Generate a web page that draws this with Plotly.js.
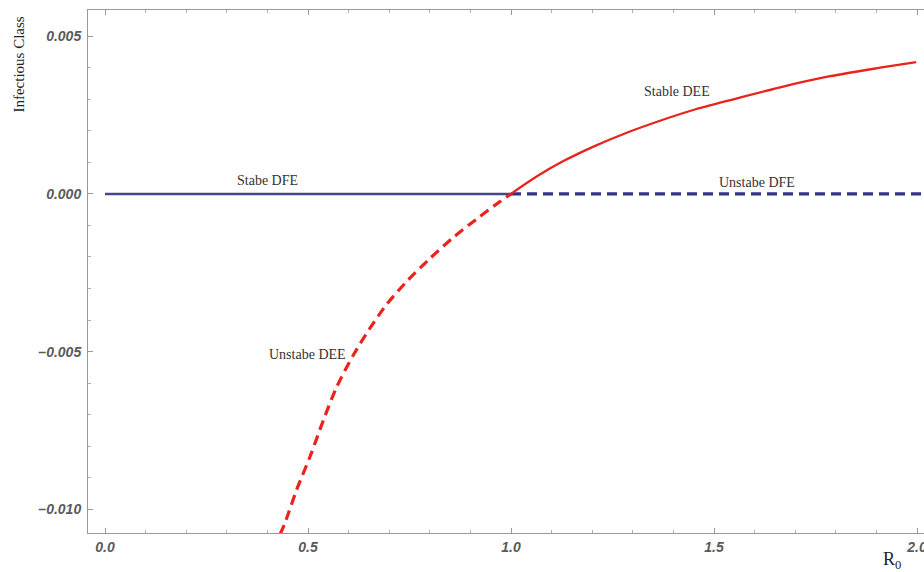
<!DOCTYPE html>
<html>
<head>
<meta charset="utf-8">
<script src="https://cdn.plot.ly/plotly-3.0.1.min.js"></script>
<style>html,body{margin:0;padding:0;background:#fff;overflow:hidden}</style>
</head>
<body>
<div id="chart" style="width:924px;height:572px"></div>
<script>
// Stable disease-free equilibrium (solid) and unstable DFE (dashed)
const dfeStableX = [0.0, 1.0];
const dfeStableY = [0.0, 0.0];
const dfeUnstableX = [1.0, 2.02];
const dfeUnstableY = [0.0, 0.0];

// Unstable endemic equilibrium (red dashed)
const deeUnstableX = [0.431, 0.443, 0.472, 0.505, 0.538, 0.571, 0.612, 0.653, 0.694, 0.743, 0.800, 0.858, 0.915, 0.973, 1.0];
const deeUnstableY = [-0.01080, -0.01044, -0.00938, -0.00833, -0.00717, -0.00611, -0.00510, -0.00425, -0.00350, -0.00278, -0.00205, -0.00138, -0.00080, -0.00024, 0.0];

// Stable endemic equilibrium (red solid)
const deeStableX = [1.0, 1.063, 1.129, 1.203, 1.285, 1.367, 1.449, 1.548, 1.663, 1.786, 1.909, 1.998];
const deeStableY = [0.0, 0.00055, 0.00104, 0.00150, 0.00194, 0.00232, 0.00266, 0.00300, 0.00338, 0.00373, 0.00400, 0.00418];

const xTicks = [0.0, 0.5, 1.0, 1.5, 2.0];
const xTickLabels = ["0.0", "0.5", "1.0", "1.5", "2.0"];
const yTicks = [-0.010, -0.005, 0.000, 0.005];
const yTickLabels = ["\u20130.010", "\u20130.005", "0.000", "0.005"];

const blue = '#46468a';
const blueDash = '#33338c';
const red = '#e8241c';

const traces = [
  {x: dfeStableX, y: dfeStableY, mode: 'lines', line: {color: blue, width: 2.5}, hoverinfo: 'skip'},
  {x: dfeUnstableX, y: dfeUnstableY, mode: 'lines', line: {color: blueDash, width: 3.2, dash: '10px,6px'}, hoverinfo: 'skip'},
  {x: deeUnstableX, y: deeUnstableY, mode: 'lines', line: {color: red, width: 3.2, dash: '10px,6px', shape: 'spline', smoothing: 0.8}, hoverinfo: 'skip'},
  {x: deeStableX, y: deeStableY, mode: 'lines', line: {color: red, width: 2.3, shape: 'spline', smoothing: 0.8}, hoverinfo: 'skip'}
];

const tickFont = {family: '"Liberation Sans", Arial, sans-serif', size: 14, color: '#5a5a5a', weight: 'bold', style: 'italic'};
const serif = '"Liberation Serif", "Times New Roman", serif';

const layout = {
  width: 924, height: 572,
  margin: {l: 88, r: 0, t: 10, b: 39, pad: 0},
  paper_bgcolor: '#ffffff', plot_bgcolor: '#ffffff',
  showlegend: false,
  xaxis: {
    range: [-0.0419, 2.0172], showgrid: false, zeroline: false,
    showline: true, linecolor: '#9a9a9a', linewidth: 1, mirror: 'ticks',
    ticks: 'inside', ticklen: 5, tickcolor: '#9a9a9a', tickwidth: 1,
    tickvals: xTicks, ticktext: xTickLabels, tickfont: tickFont, ticklabelstandoff: 1,
    ticklabeloverflow: 'allow',
    minor: {dtick: 0.1, tick0: 0, ticks: 'inside', ticklen: 3, tickcolor: '#b0b0b0', showgrid: false}
  },
  yaxis: {
    range: [-0.01075, 0.00583], showgrid: false, zeroline: false,
    showline: true, linecolor: '#9a9a9a', linewidth: 1, mirror: false,
    ticks: 'inside', ticklen: 5, tickcolor: '#9a9a9a', tickwidth: 1,
    tickvals: yTicks, ticktext: yTickLabels, tickfont: tickFont, ticklabelstandoff: 3,
    minor: {dtick: 0.001, tick0: 0, ticks: 'inside', ticklen: 3, tickcolor: '#b0b0b0', showgrid: false}
  },
  annotations: [
    {text: 'Infectious Class', xref: 'paper', yref: 'paper', x: -0.083, y: 0.895, xanchor: 'center', yanchor: 'middle', textangle: -90, showarrow: false, font: {family: serif, size: 15, color: '#222'}},
    {text: 'R<sub>0</sub>', xref: 'paper', yref: 'paper', x: 0.962, y: -0.052, xanchor: 'center', yanchor: 'middle', showarrow: false, font: {family: serif, size: 18, color: '#222'}},
    {text: 'Stabe DFE', x: 0.401, y: 0.00041, showarrow: false, font: {family: serif, size: 14, color: '#333'}},
    {text: 'Unstabe DEE', x: 0.498, y: -0.0051, showarrow: false, font: {family: serif, size: 14, color: '#333'}},
    {text: 'Stable DEE', x: 1.409, y: 0.00325, showarrow: false, font: {family: serif, size: 14, color: '#333'}},
    {text: 'Unstabe DFE', x: 1.606, y: 0.00035, showarrow: false, font: {family: serif, size: 14, color: '#333'}}
  ]
};

Plotly.newPlot('chart', traces, layout, {staticPlot: true, displayModeBar: false});
</script>
</body>
</html>
